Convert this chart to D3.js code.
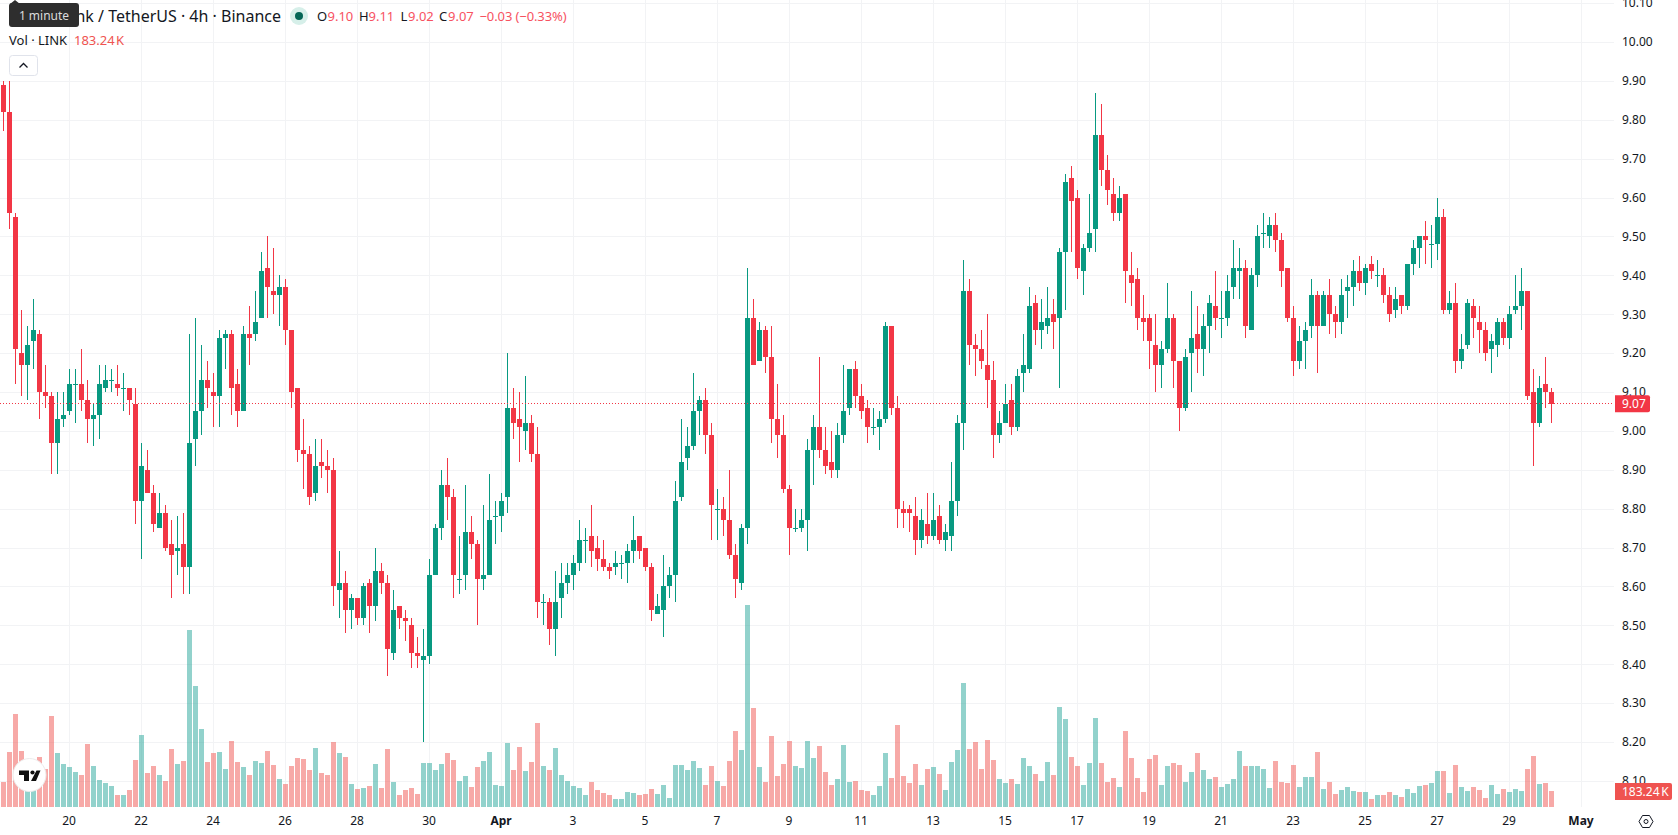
<!DOCTYPE html>
<html>
<head>
<meta charset="utf-8">
<script src="https://cdn.jsdelivr.net/npm/d3@7/dist/d3.min.js"></script>
<style>
  html, body { margin: 0; padding: 0; background: #fff; overflow: hidden; }
  svg { display: block; font-family: "Noto Sans", sans-serif; }
  .axis text { fill: #131722; font-size: 12px; font-family: "Noto Sans", sans-serif; }
  .axis path, .axis line { display: none; }
</style>
</head>
<body>
<svg id="chart" width="1678" height="835"></svg>
<script>
// LINK/USDT 4h candles, first bar opens 18 March 04:00 UTC, one bar every four hours.
const opens = [
  9.89,9.82,9.55,9.20,9.17,9.23,9.25,9.10,9.09,8.97,
  9.03,9.05,9.12,9.12,9.08,9.03,9.04,9.11,9.13,9.12,
  9.11,9.11,9.07,8.82,8.90,8.84,8.75,8.79,8.71,8.69,
  8.71,8.65,8.98,9.05,9.13,9.10,9.09,9.24,9.25,9.12,
  9.05,9.25,9.25,9.29,9.42,9.36,9.35,9.37,9.26,9.11,
  8.95,8.94,8.84,8.92,8.91,8.90,8.59,8.61,8.54,8.57,
  8.52,8.61,8.55,8.64,8.61,8.43,8.55,8.52,8.50,8.43,
  8.41,8.42,8.63,8.75,8.86,8.83,8.62,8.63,8.74,8.71,
  8.62,8.63,8.78,8.78,8.83,9.06,9.03,9.00,9.02,8.94,
  8.56,8.56,8.49,8.57,8.61,8.63,8.66,8.72,8.73,8.70,
  8.67,8.65,8.65,8.66,8.66,8.69,8.73,8.70,8.65,8.53,
  8.54,8.60,8.63,8.83,8.93,8.96,9.05,9.08,8.99,8.80,
  8.80,8.77,8.68,8.61,8.75,9.29,9.18,9.26,9.19,9.03,
  8.99,8.85,8.75,8.75,8.77,8.95,9.01,8.95,8.92,8.90,
  8.99,9.06,9.16,9.09,9.06,9.01,9.01,9.03,9.27,9.06,
  8.80,8.80,8.78,8.72,8.76,8.73,8.78,8.72,8.73,8.82,
  9.02,9.36,9.22,9.21,9.17,9.13,8.99,9.02,9.08,9.01,
  9.15,9.16,9.33,9.26,9.27,9.30,9.29,9.46,9.65,9.60,
  9.41,9.47,9.52,9.76,9.67,9.61,9.56,9.61,9.40,9.39,
  9.29,9.29,9.22,9.17,9.21,9.29,9.18,9.06,9.20,9.25,
  9.21,9.27,9.32,9.29,9.29,9.37,9.41,9.42,9.26,9.40,
  9.51,9.50,9.53,9.49,9.42,9.29,9.18,9.23,9.27,9.35,
  9.27,9.35,9.30,9.28,9.36,9.37,9.41,9.38,9.43,9.40,
  9.40,9.35,9.31,9.35,9.32,9.43,9.47,9.50,9.48,9.48,
  9.55,9.31,9.33,9.18,9.22,9.32,9.28,9.26,9.21,9.22,
  9.28,9.24,9.31,9.32,9.36,9.10,9.02,9.12,9.10
];
const highs = [
  9.90,9.90,9.56,9.31,9.27,9.34,9.26,9.17,9.10,9.10,
  9.10,9.16,9.16,9.21,9.13,9.07,9.17,9.17,9.16,9.17,
  9.15,9.11,9.11,8.97,8.95,8.86,8.84,8.81,8.77,8.78,
  8.79,9.25,9.29,9.22,9.18,9.15,9.26,9.26,9.26,9.16,
  9.27,9.32,9.36,9.46,9.50,9.47,9.40,9.39,9.26,9.11,
  9.03,8.96,8.98,8.98,8.95,8.93,8.69,8.64,8.58,8.57,
  8.61,8.62,8.70,8.66,8.63,8.59,8.55,8.54,8.52,8.47,
  8.49,8.67,8.76,8.90,8.93,8.85,8.73,8.86,8.78,8.72,
  8.81,8.89,8.82,8.84,9.20,9.11,9.10,9.14,9.04,9.01,
  8.58,8.57,8.64,8.66,8.66,8.68,8.77,8.75,8.81,8.73,
  8.72,8.66,8.69,8.68,8.71,8.78,8.73,8.70,8.66,8.58,
  8.68,8.65,8.87,9.03,9.01,9.15,9.09,9.11,9.02,8.85,
  8.83,8.90,8.71,8.76,9.42,9.34,9.28,9.27,9.27,9.12,
  9.04,8.86,8.80,8.80,8.98,9.04,9.19,9.01,9.00,9.02,
  9.17,9.16,9.18,9.12,9.08,9.06,9.05,9.28,9.27,9.09,
  8.82,8.81,8.83,8.80,8.84,8.84,8.81,8.76,8.92,9.04,
  9.44,9.39,9.25,9.26,9.30,9.18,9.05,9.12,9.12,9.16,
  9.25,9.37,9.35,9.34,9.37,9.34,9.47,9.66,9.68,9.62,
  9.48,9.61,9.87,9.84,9.71,9.65,9.63,9.61,9.46,9.42,
  9.35,9.30,9.30,9.23,9.38,9.30,9.18,9.21,9.36,9.32,
  9.30,9.35,9.41,9.36,9.40,9.49,9.47,9.44,9.42,9.53,
  9.56,9.55,9.56,9.51,9.42,9.32,9.27,9.28,9.39,9.36,
  9.36,9.39,9.32,9.39,9.40,9.44,9.45,9.43,9.45,9.44,
  9.42,9.37,9.37,9.35,9.43,9.49,9.50,9.54,9.53,9.60,
  9.57,9.36,9.38,9.25,9.34,9.34,9.32,9.28,9.25,9.29,
  9.29,9.32,9.40,9.42,9.36,9.16,9.14,9.19,9.11
];
const lows = [
  9.77,9.52,9.12,9.09,9.08,9.16,9.03,9.06,8.89,8.89,
  9.01,9.04,9.02,9.05,8.97,8.96,8.98,9.10,9.10,9.09,
  9.05,9.04,8.76,8.67,8.84,8.74,8.75,8.69,8.57,8.63,
  8.58,8.58,8.91,8.99,9.06,9.01,9.01,9.16,9.04,9.01,
  9.05,9.17,9.23,9.29,9.29,9.30,9.27,9.22,9.06,8.92,
  8.85,8.81,8.82,8.88,8.84,8.55,8.52,8.48,8.49,8.50,
  8.50,8.48,8.51,8.58,8.37,8.41,8.49,8.46,8.39,8.39,
  8.20,8.40,8.63,8.72,8.77,8.57,8.58,8.59,8.67,8.50,
  8.59,8.63,8.71,8.74,8.79,8.98,8.92,8.95,8.92,8.52,
  8.50,8.45,8.42,8.52,8.58,8.59,8.64,8.66,8.65,8.64,
  8.64,8.62,8.63,8.62,8.61,8.66,8.67,8.64,8.51,8.53,
  8.47,8.57,8.56,8.82,8.90,8.95,8.99,8.94,8.72,8.72,
  8.73,8.67,8.57,8.59,8.71,9.17,9.18,9.15,8.97,8.93,
  8.84,8.68,8.74,8.74,8.69,8.86,8.93,8.89,8.88,8.88,
  8.97,9.04,9.06,9.03,8.97,8.99,8.95,9.02,9.04,8.75,
  8.75,8.74,8.68,8.70,8.71,8.72,8.71,8.69,8.69,8.78,
  8.95,9.17,9.14,9.16,9.06,8.93,8.97,9.02,8.99,9.00,
  9.10,9.15,9.22,9.21,9.25,9.21,9.11,9.31,9.46,9.39,
  9.35,9.46,9.46,9.63,9.58,9.54,9.54,9.33,9.32,9.26,
  9.23,9.16,9.10,9.11,9.20,9.11,9.00,9.05,9.10,9.15,
  9.14,9.20,9.26,9.24,9.27,9.34,9.34,9.24,9.26,9.37,
  9.47,9.47,9.46,9.37,9.28,9.14,9.16,9.16,9.24,9.15,
  9.27,9.25,9.24,9.25,9.29,9.32,9.36,9.35,9.39,9.37,
  9.33,9.28,9.29,9.30,9.31,9.40,9.42,9.43,9.42,9.44,
  9.30,9.30,9.15,9.16,9.21,9.24,9.20,9.18,9.15,9.19,
  9.22,9.21,9.30,9.26,9.08,8.91,9.01,9.06,9.02
];
const closes = [
  9.82,9.56,9.21,9.17,9.22,9.26,9.10,9.09,8.97,9.03,
  9.04,9.12,9.12,9.08,9.03,9.04,9.12,9.13,9.13,9.11,
  9.11,9.08,8.82,8.91,8.84,8.76,8.79,8.70,8.68,8.70,
  8.65,8.97,9.05,9.13,9.11,9.09,9.24,9.25,9.11,9.05,
  9.25,9.24,9.28,9.41,9.37,9.35,9.37,9.26,9.10,8.95,
  8.94,8.83,8.91,8.91,8.90,8.60,8.61,8.54,8.57,8.52,
  8.60,8.55,8.64,8.61,8.44,8.54,8.52,8.51,8.43,8.42,
  8.42,8.63,8.75,8.86,8.83,8.63,8.62,8.74,8.71,8.62,
  8.63,8.77,8.78,8.82,9.06,9.02,9.01,9.02,8.94,8.56,
  8.56,8.49,8.56,8.61,8.63,8.66,8.72,8.72,8.69,8.67,
  8.65,8.64,8.66,8.66,8.69,8.72,8.69,8.65,8.54,8.55,
  8.60,8.63,8.82,8.92,8.96,9.05,9.08,8.99,8.81,8.80,
  8.77,8.68,8.62,8.75,9.29,9.17,9.26,9.19,9.03,8.99,
  8.85,8.75,8.75,8.77,8.95,9.01,8.95,8.91,8.90,8.99,
  9.05,9.16,9.09,9.05,9.01,9.01,9.03,9.27,9.06,8.80,
  8.79,8.79,8.72,8.77,8.73,8.77,8.72,8.74,8.82,9.02,
  9.36,9.22,9.21,9.18,9.13,8.99,9.02,9.07,9.01,9.14,
  9.17,9.32,9.26,9.28,9.29,9.28,9.46,9.64,9.59,9.42,
  9.47,9.51,9.76,9.67,9.62,9.56,9.60,9.41,9.38,9.29,
  9.28,9.23,9.17,9.21,9.29,9.18,9.06,9.19,9.24,9.21,
  9.27,9.33,9.29,9.29,9.36,9.42,9.42,9.27,9.40,9.50,
  9.51,9.53,9.49,9.41,9.29,9.18,9.23,9.26,9.35,9.27,
  9.35,9.30,9.28,9.35,9.37,9.41,9.38,9.42,9.41,9.40,
  9.35,9.30,9.34,9.32,9.43,9.47,9.50,9.49,9.48,9.55,
  9.31,9.33,9.18,9.21,9.33,9.29,9.26,9.20,9.23,9.28,
  9.24,9.30,9.32,9.36,9.09,9.02,9.11,9.10,9.07
];
// Traded volume per bar, in thousands of LINK.
const volumes = [
  286,630,1065,641,458,400,572,435,1042,618,
  492,458,400,366,721,469,309,275,240,137,
  137,195,538,824,389,469,366,298,664,492,
  527,2027,1385,893,515,618,630,435,756,515,
  458,366,527,504,641,481,321,263,469,561,
  550,424,676,389,366,744,618,572,263,206,
  218,240,492,218,664,286,137,195,218,149,
  504,504,424,492,618,538,298,355,229,458,
  527,630,252,240,733,424,687,412,515,962,
  469,424,676,366,298,240,218,137,286,195,
  160,137,92,92,172,160,137,149,206,149,
  252,103,481,481,424,527,447,252,469,298,
  240,527,870,653,2313,1134,458,286,813,355,
  492,756,469,447,756,561,698,400,252,321,
  710,286,298,195,183,137,240,618,332,939,
  355,275,492,252,435,458,378,195,515,653,
  1420,664,744,435,767,538,321,275,321,263,
  561,469,378,298,515,366,1145,1008,572,469,
  252,504,1019,504,286,332,229,870,561,332,
  172,550,595,252,469,504,481,286,400,618,
  424,321,344,229,263,321,641,469,469,469,
  435,218,527,286,275,481,229,344,344,630,
  206,286,149,195,229,183,172,172,92,137,
  137,172,137,115,206,160,240,252,275,412,
  412,160,481,229,183,229,195,103,252,149,
  206,172,206,183,435,584,263,275,183.24
];
const priceTicks = [8.10,8.20,8.30,8.40,8.50,8.60,8.70,8.80,8.90,9.00,9.10,9.20,9.30,9.40,9.50,9.60,9.70,9.80,9.90,10.00,10.10];
const dateTicks = [
  "2026-03-20","2026-03-22","2026-03-24","2026-03-26","2026-03-28","2026-03-30","2026-04-01",
  "2026-04-03","2026-04-05","2026-04-07","2026-04-09","2026-04-11","2026-04-13","2026-04-15",
  "2026-04-17","2026-04-19","2026-04-21","2026-04-23","2026-04-25","2026-04-27","2026-04-29","2026-05-01"
];
const lastClose = 9.07;
const lastVolume = 183.24;

const UP = "#089981", DOWN = "#F23645", LEGEND_RED = "#F7525F";
const VOL_UP = "#26a69a", VOL_DOWN = "#ef5350";
const BAR_MS = 4 * 3600 * 1000;
const firstBar = Date.UTC(2026, 2, 18, 4);
const barTime = i => new Date(firstBar + i * BAR_MS);

const paneRight = 1614, volumeBase = 807, dateAxisY = 813;
const titleY = 16, volRowY = 40.7;

const svg = d3.select("#chart");
const x = d3.scaleUtc().domain([barTime(0), barTime(1)]).range([3.5, 9.5]);
const y = d3.scaleLinear().domain([10, 9]).range([42, 430.9]);
const yVol = d3.scaleLinear().domain([0, lastVolume]).range([volumeBase, volumeBase - 16]);

const bars = opens.map((o, i) => ({
  t: barTime(i), o, h: highs[i], l: lows[i], c: closes[i], v: volumes[i], up: closes[i] >= o
}));
const tickDates = dateTicks.map(s => new Date(s + "T00:00:00Z"));
const snap = v => Math.round(v);

// Background grid
const grid = svg.append("g").attr("stroke", "#f2f3f5").attr("stroke-width", 1).attr("shape-rendering", "crispEdges");
grid.selectAll("line.h").data(priceTicks).join("line").attr("class", "h")
  .attr("x1", 0).attr("x2", paneRight)
  .attr("y1", d => snap(y(d)) + 0.5).attr("y2", d => snap(y(d)) + 0.5);
grid.selectAll("line.v").data(tickDates).join("line").attr("class", "v")
  .attr("x1", d => Math.floor(x(d)) + 0.5).attr("x2", d => Math.floor(x(d)) + 0.5)
  .attr("y1", 0).attr("y2", volumeBase);

// Volume histogram
svg.append("g").attr("shape-rendering", "crispEdges")
  .selectAll("rect").data(bars).join("rect")
  .attr("x", d => x(d.t) - 2.5)
  .attr("width", 5)
  .attr("y", d => snap(yVol(d.v)))
  .attr("height", d => volumeBase - snap(yVol(d.v)))
  .attr("fill", d => d.up ? VOL_UP : VOL_DOWN)
  .attr("opacity", 0.5);

// Candles: wick then body
const candles = svg.append("g").attr("shape-rendering", "crispEdges");
candles.selectAll("rect.wick").data(bars).join("rect").attr("class", "wick")
  .attr("x", d => x(d.t) - 0.5)
  .attr("width", 1)
  .attr("y", d => snap(y(d.h)))
  .attr("height", d => Math.max(1, snap(y(d.l)) - snap(y(d.h))))
  .attr("fill", d => d.up ? UP : DOWN);
candles.selectAll("rect.body").data(bars).join("rect").attr("class", "body")
  .attr("x", d => x(d.t) - 2.5)
  .attr("width", 5)
  .attr("y", d => snap(y(Math.max(d.o, d.c))))
  .attr("height", d => Math.max(1, snap(y(Math.min(d.o, d.c))) - snap(y(Math.max(d.o, d.c)))))
  .attr("fill", d => d.up ? UP : DOWN);

// Last price line
svg.append("line")
  .attr("x1", 0).attr("x2", paneRight)
  .attr("y1", Math.floor(y(lastClose)) + 0.5).attr("y2", Math.floor(y(lastClose)) + 0.5)
  .attr("stroke", DOWN).attr("stroke-width", 1).attr("stroke-dasharray", "1 2");

// Price axis
svg.append("g").attr("class", "axis").attr("transform", `translate(${paneRight},0)`)
  .call(d3.axisRight(y).tickValues(priceTicks).tickSize(0).tickPadding(8).tickFormat(d3.format(".2f")));

// Date axis; month starts are set in bold
const dateFmt = d => d.getUTCDate() === 1 ? d3.utcFormat("%b")(d) : String(d.getUTCDate());
const dateLabels = svg.append("g").attr("class", "axis").attr("transform", `translate(-1,${dateAxisY})`)
  .call(d3.axisBottom(x).tickValues(tickDates).tickSize(0).tickPadding(3).tickFormat(dateFmt))
  .selectAll("text")
  .style("font-weight", d => d.getUTCDate() === 1 ? 700 : 400);

// Last value tags on the price scale
function tag(yc, w, color, label) {
  const g = svg.append("g");
  g.append("path")
    .attr("d", `M${paneRight + 1},${yc - 8.5}h${w - 3}a2,2 0 0 1 2,2v13a2,2 0 0 1 -2,2h${-(w - 3)}z`)
    .attr("fill", color);
  g.append("text").attr("x", paneRight + 8).attr("y", yc).attr("dy", "0.35em")
    .attr("fill", "#fff").attr("font-size", 12).attr("word-spacing", -1.5).text(label);
}
tag(y(lastClose), 36, DOWN, "9.07");
tag(791.5, 58, VOL_DOWN, "183.24 K");

// Legend rows
const legend = svg.append("g").attr("font-size", 13);
legend.append("text").attr("x", 281).attr("y", titleY).attr("dy", "0.35em").attr("text-anchor", "end")
  .attr("font-size", 16).attr("fill", "#131722").text("ChainLink / TetherUS · 4h · Binance");
legend.append("circle").attr("cx", 299).attr("cy", titleY).attr("r", 9).attr("fill", "#d6efe9");
legend.append("circle").attr("cx", 299).attr("cy", titleY).attr("r", 4).attr("fill", "#056656");

const ohlc = [
  { k: "O", kx: 317, vx: 327.5, v: "9.10" },
  { k: "H", kx: 359, vx: 368.5, v: "9.11" },
  { k: "L", kx: 400.5, vx: 408, v: "9.02" },
  { k: "C", kx: 439, vx: 448, v: "9.07" }
];
ohlc.forEach(e => {
  legend.append("text").attr("x", e.kx).attr("y", titleY).attr("dy", "0.35em").attr("fill", "#131722").text(e.k);
  legend.append("text").attr("x", e.vx).attr("y", titleY).attr("dy", "0.35em").attr("fill", LEGEND_RED).text(e.v);
});
legend.append("text").attr("x", 479.5).attr("y", titleY).attr("dy", "0.35em").attr("fill", LEGEND_RED)
  .attr("letter-spacing", -0.1).text("−0.03 (−0.33%)");
legend.append("text").attr("x", 9).attr("y", volRowY).attr("dy", "0.35em").attr("fill", "#131722").text("Vol · LINK");
legend.append("text").attr("x", 74).attr("y", volRowY).attr("dy", "0.35em").attr("fill", VOL_DOWN)
  .attr("word-spacing", -2).text("183.24 K");

// Collapse button
legend.append("rect").attr("x", 9.5).attr("y", 55.5).attr("width", 28).attr("height", 20).attr("rx", 3)
  .attr("fill", "#fff").attr("stroke", "#e0e3eb");
legend.append("path").attr("d", "M19.5,67.5L23.5,63.5L27.5,67.5").attr("fill", "none").attr("stroke", "#131722").attr("stroke-width", 1.3);

// Hover tooltip sitting above the title
const tip = svg.append("g");
tip.append("path").attr("d", "M10,4L15,0L20,4z").attr("fill", "#2e2e2e");
tip.append("rect").attr("x", 9).attr("y", 3).attr("width", 70).attr("height", 24).attr("rx", 3).attr("fill", "#2e2e2e");
tip.append("text").attr("x", 44).attr("y", 15.5).attr("dy", "0.35em").attr("text-anchor", "middle")
  .attr("fill", "#dcdcdc").attr("font-size", 12).text("1 minute");

// Attribution badge
const badge = svg.append("g");
badge.append("circle").attr("cx", 29.5).attr("cy", 775).attr("r", 16.5).attr("fill", "#fff").attr("stroke", "#ececec").attr("stroke-width", 1);
badge.append("path").attr("fill", "#0f0f0f")
  .attr("d", "M19,770.5h10v10.5h-5v-6h-5zM36.5,770.5h4L36,781h-5z");
badge.append("circle").attr("cx", 32.5).attr("cy", 772.5).attr("r", 2.1).attr("fill", "#0f0f0f");

// Settings glyph in the scale corner
const gear = svg.append("g").attr("transform", "translate(1646,821.5)").attr("fill", "none").attr("stroke", "#131722").attr("stroke-width", 1);
gear.append("path").attr("d", "M-7,0L-3.5,-6H3.5L7,0L3.5,6H-3.5z");
gear.append("circle").attr("r", 2);
</script>
</body>
</html>
